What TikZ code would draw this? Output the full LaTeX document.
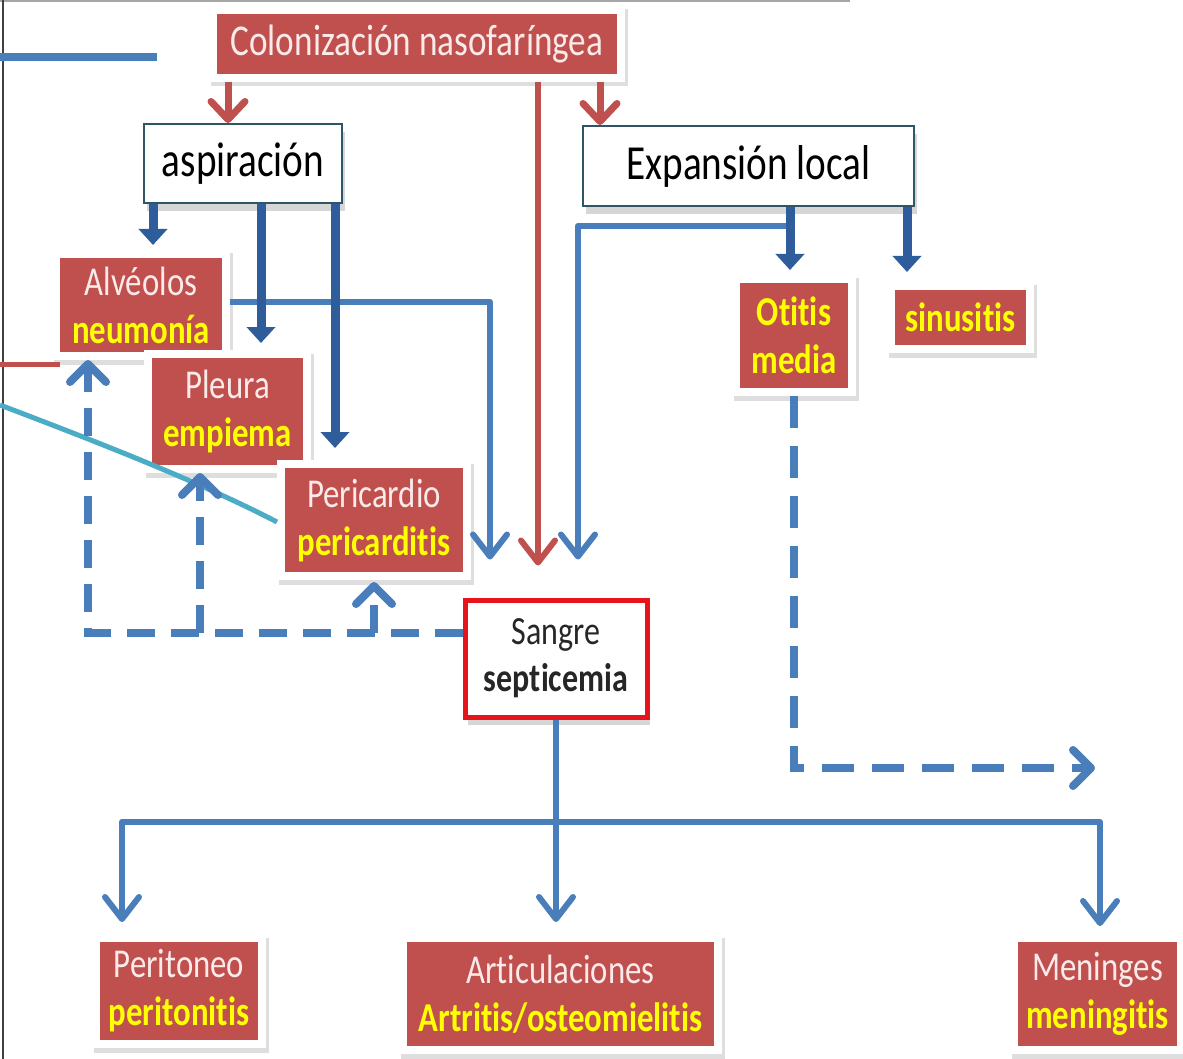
\documentclass[tikz,border=0pt]{standalone}
\usepackage{fontspec}
\setmainfont{Carlito}[FakeStretch=0.8,Ligatures=NoCommon]
\usetikzlibrary{arrows.meta,shadows}
\definecolor{rbox}{HTML}{C0504D}
\definecolor{rtext}{HTML}{FBEAEA}
\definecolor{ylw}{HTML}{FFFF00}
\definecolor{bl}{HTML}{4A7EBB}
\definecolor{dbl}{HTML}{2F5C9A}
\definecolor{tealc}{HTML}{4BACC6}
\definecolor{frameb}{HTML}{2F5566}
\definecolor{sred}{HTML}{E8141B}
\definecolor{rline}{HTML}{C0504D}
\begin{document}
\begin{tikzpicture}[x=1pt,y=-1pt,
  shad/.style={drop shadow={shadow xshift=3pt,shadow yshift=-8pt,fill=black!35,opacity=.45}},
  halo/.style={drop shadow={shadow xshift=2pt,shadow yshift=-4pt,fill=black!25,draw=black!25,line width=9pt,opacity=.5}},
  redbox/.style={halo,fill=rbox,draw=white,line width=8pt,text=rtext,align=center,inner sep=0pt,
    font=\fontsize{41}{48}\selectfont},
  whitebox/.style={shad,fill=white,draw=frameb,line width=2pt,inner sep=0pt,text=black},
  sanbox/.style={shad,fill=white,draw=sred,line width=5pt,inner sep=0pt,align=center,text=black!85,
    font=\fontsize{40}{47}\selectfont},
  redarrow/.style={draw=rline,line width=7pt,-{Straight Barb[length=18pt,width=34pt,round]}},
  redline/.style={draw=rline,line width=6pt,-{Straight Barb[length=22pt,width=34pt,round]}},
  darrow/.style={draw=dbl,line width=9pt,-{Triangle[length=16pt,width=28pt]}},
  barrow/.style={draw=bl,line width=6pt,line join=round,-{Straight Barb[length=22pt,width=34pt,round]}},
  dasharrow/.style={draw=bl,line width=8pt,dash pattern=on 28pt off 16pt,-{Straight Barb[length=18pt,width=36pt,round]}},
]
\useasboundingbox[fill=white] (0,0) rectangle (1183,1059);
% frame lines
\coordinate (tl0) at (0,1); \coordinate (tl1) at (850,1);
\draw[black!35,line width=2pt] (tl0) -- (tl1);
\coordinate (lb0) at (3,0); \coordinate (lb1) at (3,1059);
\draw[black!75,line width=1.5pt] (lb0) -- (lb1);
% top left blue line
\coordinate (bl0) at (0,57); \coordinate (bl1) at (157,57);
\draw[bl,line width=8pt] (bl0) -- (bl1);

% nodes
\node[redbox,minimum width=408,minimum height=68,font=\fontsize{44}{52}\selectfont] (colon) at (417,44) {Colonización nasofaríngea};
\node[whitebox,minimum width=198,minimum height=79,font=\fontsize{49}{58}\selectfont] (asp) at (243,163.5) {aspiración};
\node[whitebox,minimum width=331,minimum height=80,font=\fontsize{49}{58}\selectfont] (exp) at (748.5,166) {Expansión local};
\node[redbox,minimum width=170,minimum height=102] (alv) at (141,305) {Alvéolos\\\textbf{\color{ylw}neumonía}};
\node[redbox,minimum width=159,minimum height=115] (ple) at (227.5,411.5) {Pleura\\\textbf{\color{ylw}empiema}};
\node[redbox,minimum width=186,minimum height=112] (per) at (374,520) {Pericardio\\\textbf{\color{ylw}pericarditis}};
\node[redbox,minimum width=116,minimum height=113] (oti) at (794,335.5) {\textbf{\color{ylw}Otitis}\\\textbf{\color{ylw}media}};
\node[redbox,minimum width=139,minimum height=63] (sin) at (960.5,317.5) {\textbf{\color{ylw}sinusitis}};
\node[sanbox,minimum width=182,minimum height=117] (san) at (556,658.5) {Sangre\\\textbf{septicemia}};
\node[redbox,minimum width=166,minimum height=106] (pto) at (179,991) {Peritoneo\\\textbf{\color{ylw}peritonitis}};
\node[redbox,minimum width=315,minimum height=112] (art) at (560.5,994) {Articulaciones\\\textbf{\color{ylw}Artritis/osteomielitis}};
\node[redbox,minimum width=167,minimum height=112] (men) at (1097.5,994) {Meninges\\\textbf{\color{ylw}meningitis}};

% left red line
\coordinate (rl0) at (0,364); \coordinate (rl1) at (60,364);
\draw[rline,line width=5pt] (rl0) -- (rl1);

% red arrows from colonization
\draw[redarrow] ([xshift=-189pt]colon.south) -- ([xshift=-15pt]asp.north);
\draw[redarrow] ([xshift=183pt]colon.south) -- ([xshift=-148.5pt]exp.north);
\draw[redline,shorten >=32pt] ([xshift=121pt]colon.south) -- ([xshift=-18pt]san.north);

% blue lines to blood
\draw[barrow,shorten >=38pt] ([yshift=3pt]alv.east) -| ([xshift=-66pt]san.north);
\draw[barrow,shorten >=38pt] ([xshift=41.5pt,yshift=-19pt]exp.south) -| ([xshift=22pt]san.north);

% dark arrows
\draw[darrow,shorten >=5pt] ([xshift=-90pt]asp.south) -- ([xshift=12pt]alv.north);
\draw[darrow,shorten >=7pt] ([xshift=18pt]asp.south) -- ([xshift=33.5pt]ple.north);
\draw[darrow,shorten >=12pt] ([xshift=92pt]asp.south) -- ([xshift=-39pt]per.north);
\draw[darrow,shorten >=5pt] ([xshift=41.5pt]exp.south) -- ([xshift=-4pt]oti.north);
\draw[darrow,shorten >=10pt] ([xshift=158.5pt]exp.south) -- ([xshift=-53.5pt]sin.north);

% teal line
\coordinate (tc0) at (0,405);
\draw[tealc,line width=5pt] (tc0) .. controls (100,443) and (200,482) .. ([yshift=-2pt]per.west);

% dashed from blood
\coordinate (d0) at ([yshift=25.5pt]san.west);
\draw[dasharrow] (d0) -| ([xshift=-53pt]alv.south);
\coordinate (pb) at ([xshift=-27.5pt]ple.south);
\draw[dasharrow] (pb |- d0) -- (pb);
\draw[dasharrow,shorten >=2pt] (per.south |- d0) -- (per.south);

% dashed from otitis
\coordinate (oend) at (1095,768);
\draw[dasharrow,dash pattern=on 32pt off 18pt] (oti.south) |- (oend);

% from blood downward
\coordinate (bus) at (558,822);
\draw[barrow,shorten >=12pt] (san.south) -- (san.south |- art.north);
\draw[barrow,shorten >=12pt] (bus) -| ([xshift=-57pt]pto.north);
\draw[barrow,shorten >=8pt] (bus) -| ([xshift=2.5pt]men.north);
\end{tikzpicture}
\end{document}
